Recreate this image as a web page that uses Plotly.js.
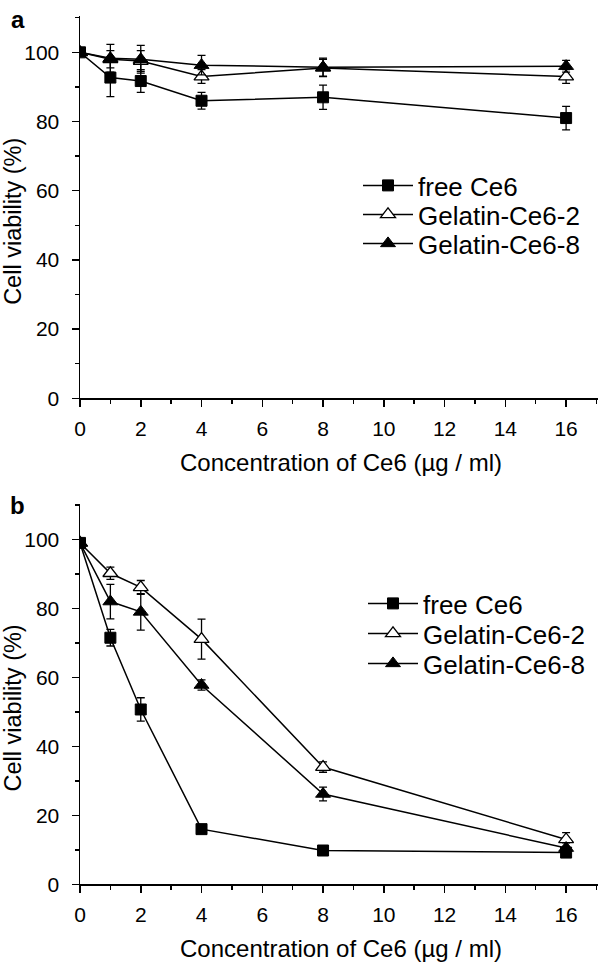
<!DOCTYPE html>
<html>
<head>
<meta charset="utf-8">
<script src="https://cdn.plot.ly/plotly-3.0.1.min.js"></script>
<style>html,body{margin:0;padding:0;background:#fff;}#chart{width:598px;height:962px;}</style>
</head>
<body>
<div id="chart"></div>
<script>
// Data
const conc = [0, 1, 2, 4, 8, 16];
const seriesNames = ["free Ce6", "Gelatin-Ce6-2", "Gelatin-Ce6-8"];

// Panel a
const aFree = [100, 92.7, 91.7, 86.0, 87.0, 81.0];
const aFreeErr = [0.5, 5.5, 3.3, 2.4, 3.5, 3.4];
const aGel2 = [100, 98.0, 97.5, 93.0, 95.5, 93.0];
const aGel2Err = [0.5, 2.5, 3.0, 2.0, 2.5, 2.0];
const aGel8 = [100, 98.3, 98.0, 96.3, 95.7, 96.0];
const aGel8Err = [0.5, 4.0, 4.0, 2.8, 2.6, 1.7];

// Panel b
const bFree = [99, 71.5, 50.7, 16.0, 9.8, 9.2];
const bFreeErr = [1, 2.4, 3.4, 1.0, 0.5, 0.5];
const bGel2 = [99, 90.2, 86.1, 71.1, 34.0, 13.0];
const bGel2Err = [1, 1.8, 2.0, 5.8, 1.5, 2.0];
const bGel8 = [99, 82.0, 79.0, 57.8, 26.2, 10.5];
const bGel8Err = [1, 5.0, 5.3, 1.5, 2.0, 1.5];

const xTitle = "Concentration of Ce6 (µg / ml)";
const yTitle = "Cell viability (%)";

const FONT = "Liberation Sans, Arial, Helvetica, sans-serif";
const markerStyles = [
  {symbol: "square", size: 11, color: "#000", line: {color: "#000", width: 1}},
  {symbol: "triangle-up", size: 13, color: "#fff", line: {color: "#000", width: 1.3}},
  {symbol: "triangle-up", size: 13, color: "#000", line: {color: "#000", width: 1}}
];
function mk(y, err, idx, xa, ya, leg) {
  return {x: conc, y: y, type: "scatter", mode: "lines+markers", name: seriesNames[idx], xaxis: xa, yaxis: ya, legend: leg,
    line: {color: "#000", width: 1.5}, marker: markerStyles[idx],
    error_y: {type: "data", array: err, visible: true, color: "#000", thickness: 1.3, width: 4}};
}
const data = [
  mk(aFree, aFreeErr, 0, "x", "y", "legend"), mk(aGel2, aGel2Err, 1, "x", "y", "legend2"), mk(aGel8, aGel8Err, 2, "x", "y", "legend3"),
  mk(bFree, bFreeErr, 0, "x2", "y2", "legend4"), mk(bGel2, bGel2Err, 1, "x2", "y2", "legend5"), mk(bGel8, bGel8Err, 2, "x2", "y2", "legend6")
];
const TICKFONT = {family: FONT, size: 21, color: "#000"};
function xax(anchor) {
  return {anchor: anchor, domain: [0, 1], range: [0, 17.05], dtick: 2, tick0: 0,
    showline: true, linecolor: "#000", linewidth: 1.5, zeroline: false, showgrid: false,
    ticks: "outside", ticklen: 7, tickwidth: 1.5, tickcolor: "#000", ticklabelstandoff: 4,
    minor: {dtick: 1, ticks: "outside", ticklen: 4, tickwidth: 1.5, tickcolor: "#000", showgrid: false},
    tickfont: TICKFONT};
}
function yax(anchor, domain, top) {
  return {anchor: anchor, domain: domain, range: [0, top], dtick: 20, tick0: 0,
    showline: true, linecolor: "#000", linewidth: 1.5, zeroline: false, showgrid: false,
    ticks: "outside", ticklen: 7, tickwidth: 1.5, tickcolor: "#000", ticklabelstandoff: 8,
    minor: {dtick: 10, ticks: "outside", ticklen: 4, tickwidth: 1.5, tickcolor: "#000", showgrid: false},
    tickfont: TICKFONT};
}
const H = 962, PW = 518;
function leg(xpx, toppx) {
  return {x: (xpx - 80) / PW, y: (H - toppx) / H, xanchor: "left", yanchor: "top",
    bgcolor: "rgba(0,0,0,0)", borderwidth: 0, itemwidth: 50, font: {family: FONT, size: 26, color: "#000"}};
}
const layout = {
  width: 598, height: 962, margin: {l: 80, r: 0, t: 0, b: 0, pad: 0},
  paper_bgcolor: "#fff", plot_bgcolor: "#fff", font: {family: FONT, color: "#000"}, showlegend: true,
  xaxis: xax("y"), yaxis: yax("x", [(H - 398.3) / H, (H - 16) / H], 110.5),
  xaxis2: xax("y2"), yaxis2: yax("x2", [(H - 884.3) / H, (H - 504.3) / H], 110.2),
  legend: leg(358, 162), legend2: leg(358, 191), legend3: leg(358, 220),
  legend4: leg(363, 580), legend5: leg(363, 610), legend6: leg(363, 640),
  annotations: [
    {text: "<b>a</b>", xref: "paper", yref: "paper", x: (18 - 80) / PW, y: (H - 19) / H, xanchor: "center", yanchor: "middle", showarrow: false, font: {family: FONT, size: 24, color: "#000"}},
    {text: "<b>b</b>", xref: "paper", yref: "paper", x: (17 - 80) / PW, y: (H - 505) / H, xanchor: "center", yanchor: "middle", showarrow: false, font: {family: FONT, size: 24, color: "#000"}},
    {text: yTitle, xref: "paper", yref: "y", x: (13 - 80) / PW, y: 51, textangle: -90, xanchor: "center", yanchor: "middle", showarrow: false, font: {family: FONT, size: 23.5, color: "#000"}},
    {text: yTitle, xref: "paper", yref: "y2", x: (13 - 80) / PW, y: 51, textangle: -90, xanchor: "center", yanchor: "middle", showarrow: false, font: {family: FONT, size: 23.5, color: "#000"}},
    {text: xTitle, xref: "paper", yref: "paper", x: (341 - 80) / PW, y: (H - 462) / H, xanchor: "center", yanchor: "middle", showarrow: false, font: {family: FONT, size: 24, color: "#000"}},
    {text: xTitle, xref: "paper", yref: "paper", x: (341 - 80) / PW, y: (H - 948) / H, xanchor: "center", yanchor: "middle", showarrow: false, font: {family: FONT, size: 24, color: "#000"}}
  ]
};
Plotly.newPlot("chart", data, layout, {displayModeBar: false, staticPlot: true});
</script>
</body>
</html>
